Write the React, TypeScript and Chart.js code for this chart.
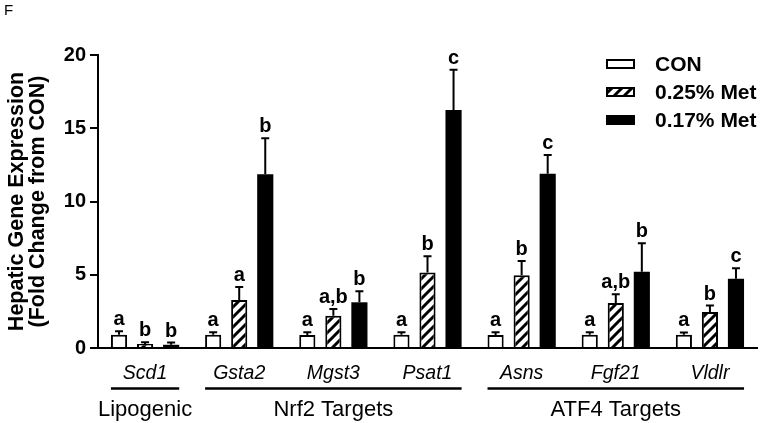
import React, { useEffect, useRef } from "react";
import { Chart, registerables } from "chart.js";

Chart.register(...registerables);

const genes = ["Scd1", "Gsta2", "Mgst3", "Psat1", "Asns", "Fgf21", "Vldlr"];
const seriesNames = ["CON", "0.25% Met", "0.17% Met"];
const conValues = [0.9, 0.9, 0.88, 0.9, 0.88, 0.9, 0.9];
const conErrors = [0.25, 0.18, 0.2, 0.18, 0.2, 0.18, 0.16];
const met025Values = [0.28, 3.28, 2.2, 5.15, 4.97, 3.07, 2.45];
const met025Errors = [0.12, 0.88, 0.47, 1.12, 0.97, 0.6, 0.45];
const met017Values = [0.22, 11.86, 3.12, 16.25, 11.9, 5.2, 4.72];
const met017Errors = [0.15, 2.45, 0.75, 2.75, 1.27, 1.95, 0.72];
const conLetters = ["a", "a", "a", "a", "a", "a", "a"];
const met025Letters = ["b", "a", "a,b", "b", "b", "a,b", "b"];
const met017Letters = ["b", "b", "b", "c", "c", "b", "c"];
const groupNames = ["Lipogenic", "Nrf2 Targets", "ATF4 Targets"];
const groupStart = [0, 1, 4];
const groupEnd = [0, 3, 6];
const yTitleLines = ["Hepatic Gene Expression", "(Fold Change from CON)"];
const panelLabel = "F";

const FONT = "'Liberation Sans', Arial, Helvetica, sans-serif";

function makeHatch(): CanvasPattern | string {
  const c = document.createElement("canvas");
  c.width = 10;
  c.height = 10;
  const g = c.getContext("2d");
  if (!g) return "#888";
  g.fillStyle = "#fff";
  g.fillRect(0, 0, 10, 10);
  g.strokeStyle = "#000";
  g.lineWidth = 3;
  g.beginPath();
  g.moveTo(-5, 5);
  g.lineTo(5, -5);
  g.moveTo(0, 10);
  g.lineTo(10, 0);
  g.moveTo(5, 15);
  g.lineTo(15, 5);
  g.stroke();
  const p = g.createPattern(c, "repeat");
  return p || "#888";
}

export default function App() {
  const ref = useRef<HTMLCanvasElement | null>(null);

  useEffect(() => {
    if (!ref.current) return;
    const hatch = makeHatch();
    const errors = [conErrors, met025Errors, met017Errors];
    const letters = [conLetters, met025Letters, met017Letters];
    const fills: any[] = ["#ffffff", hatch, "#000000"];

    const errPlugin = {
      id: "errs",
      afterDatasetsDraw(chart: any) {
        const ctx = chart.ctx;
        const y = chart.scales.y;
        ctx.save();
        ctx.strokeStyle = "#000";
        ctx.fillStyle = "#000";
        ctx.lineWidth = 2;
        ctx.font = `bold 20px ${FONT}`;
        ctx.textAlign = "center";
        ctx.textBaseline = "alphabetic";
        chart.data.datasets.forEach((ds: any, di: number) => {
          const meta = chart.getDatasetMeta(di);
          meta.data.forEach((bar: any, i: number) => {
            const v = ds.data[i];
            const top = y.getPixelForValue(v);
            const cap = y.getPixelForValue(v + errors[di][i]);
            ctx.beginPath();
            ctx.moveTo(bar.x, top);
            ctx.lineTo(bar.x, cap);
            ctx.moveTo(bar.x - 4, cap);
            ctx.lineTo(bar.x + 4, cap);
            ctx.stroke();
            ctx.fillText(letters[di][i], bar.x, cap - 6);
          });
        });
        ctx.restore();
      },
    };

    const decoPlugin = {
      id: "deco",
      afterDraw(chart: any) {
        const ctx = chart.ctx;
        const area = chart.chartArea;
        ctx.save();
        // panel label
        ctx.fillStyle = "#000";
        ctx.font = `15px ${FONT}`;
        ctx.textAlign = "left";
        ctx.textBaseline = "top";
        ctx.fillText(panelLabel, 4, 3);

        // y title
        ctx.save();
        ctx.translate(0, (area.top + area.bottom) / 2);
        ctx.rotate(-Math.PI / 2);
        ctx.font = `bold 21.5px ${FONT}`;
        ctx.textAlign = "center";
        ctx.textBaseline = "middle";
        ctx.fillText(yTitleLines[0], 0, 17);
        ctx.fillText(yTitleLines[1], 0, 38);
        ctx.restore();

        // group underlines & labels
        const m0 = chart.getDatasetMeta(0);
        const m2 = chart.getDatasetMeta(2);
        ctx.strokeStyle = "#000";
        ctx.lineWidth = 2.5;
        ctx.font = `22px ${FONT}`;
        ctx.textAlign = "center";
        ctx.textBaseline = "middle";
        groupNames.forEach((name, gi) => {
          const b0 = m0.data[groupStart[gi]];
          const b1 = m2.data[groupEnd[gi]];
          const x0 = b0.x - b0.width / 2;
          const x1 = b1.x + b1.width / 2;
          ctx.beginPath();
          ctx.moveTo(x0, 388.5);
          ctx.lineTo(x1, 388.5);
          ctx.stroke();
          const xc = chart.scales.x.getPixelForValue((groupStart[gi] + groupEnd[gi]) / 2);
          ctx.fillText(name, xc, 410);
        });

        // legend
        const rows = [64, 92, 120];
        ctx.font = `bold 21px ${FONT}`;
        ctx.textAlign = "left";
        ctx.textBaseline = "middle";
        seriesNames.forEach((name, si) => {
          const yc = rows[si];
          ctx.fillStyle = fills[si];
          ctx.fillRect(606, yc - 5, 29, 10);
          ctx.strokeStyle = "#000";
          ctx.lineWidth = 2;
          ctx.strokeRect(607, yc - 4, 27, 8);
          ctx.fillStyle = "#000";
          ctx.fillText(name, 655, yc + 1);
        });
        ctx.restore();
      },
    };

    const chart = new Chart(ref.current, {
      type: "bar",
      data: {
        labels: genes,
        datasets: [
          {
            label: seriesNames[0],
            data: conValues,
            backgroundColor: "#ffffff",
            borderColor: "#000",
            borderWidth: 2,
          },
          {
            label: seriesNames[1],
            data: met025Values,
            backgroundColor: hatch as any,
            borderColor: "#000",
            borderWidth: 2,
          },
          {
            label: seriesNames[2],
            data: met017Values,
            backgroundColor: "#000",
            borderColor: "#000",
            borderWidth: 0,
          },
        ],
      },
      options: {
        responsive: false,
        animation: false,
        categoryPercentage: 0.83,
        barPercentage: 0.62,
        layout: { padding: { top: 55, right: 5, left: 0, bottom: 0 } },
        plugins: {
          legend: { display: false },
          tooltip: { enabled: false },
          title: { display: false },
        },
        scales: {
          x: {
            offset: true,
            ticks: {
              color: "#000",
              font: { family: FONT, style: "italic", size: 19.5 },
              padding: 14,
              maxRotation: 0,
              autoSkip: false,
            },
            grid: { display: false, drawTicks: false },
            border: { display: true, color: "#000", width: 2 },
            afterFit: (s: any) => {
              s.height = 75;
            },
          },
          y: {
            min: 0,
            max: 20,
            ticks: {
              stepSize: 5,
              color: "#000",
              font: { family: FONT, weight: "bold", size: 20 },
              padding: 4,
            },
            grid: {
              display: true,
              drawOnChartArea: false,
              drawTicks: true,
              tickLength: 8,
              color: "#000",
              lineWidth: 2,
            },
            border: { display: true, color: "#000", width: 2 },
            afterFit: (s: any) => {
              s.width = 98;
            },
          },
        },
      } as any,
      plugins: [errPlugin, decoPlugin],
    });
    return () => chart.destroy();
  }, []);

  return (
    <div style={{ position: "absolute", left: 0, top: 0, width: 762, height: 423, background: "#fff" }}>
      <canvas ref={ref} width={762} height={423} style={{ display: "block" }} />
    </div>
  );
}
